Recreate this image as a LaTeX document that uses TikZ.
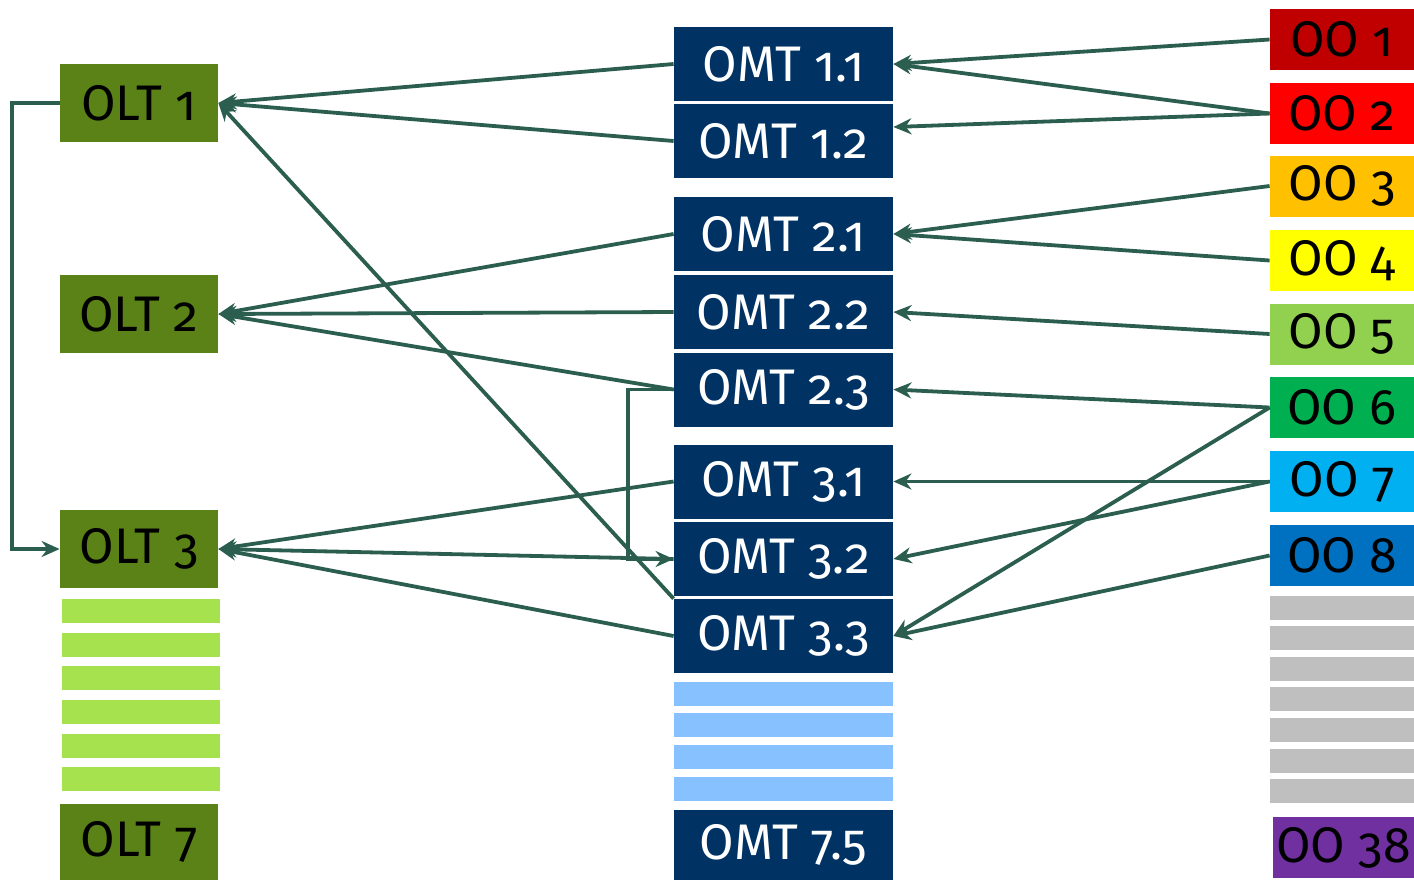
\documentclass[tikz,border=0pt]{standalone}
\usepackage{fontspec}
\setmainfont{Fira Sans}[Numbers=OldStyle]
\usetikzlibrary{arrows.meta}
\definecolor{oltgreen}{HTML}{5A8217}
\definecolor{barGreen}{HTML}{A6E24E}
\definecolor{omtblue}{HTML}{003264}
\definecolor{barBlue}{HTML}{87C1FF}
\definecolor{barGrey}{HTML}{BFBFBF}
\definecolor{connc}{HTML}{2C5E4F}
\definecolor{ooA}{HTML}{C00000}
\definecolor{ooB}{HTML}{FF0000}
\definecolor{ooC}{HTML}{FFC000}
\definecolor{ooD}{HTML}{FFFF00}
\definecolor{ooE}{HTML}{92D050}
\definecolor{ooF}{HTML}{00B050}
\definecolor{ooG}{HTML}{00B0F0}
\definecolor{ooH}{HTML}{0070C0}
\definecolor{ooZ}{HTML}{7030A0}
\tikzset{
  box/.style={rectangle, inner sep=0pt, font=\fontsize{25}{25}\selectfont},
  olt/.style={box, fill=oltgreen, text=black, minimum width=79pt, minimum height=39pt},
  omt/.style={box, fill=omtblue, text=white, minimum width=109.5pt, minimum height=37pt},
  oo/.style={box, text=black, minimum width=72pt, minimum height=30.5pt},
  gbar/.style={rectangle, inner sep=0pt, fill=barGreen, minimum width=79pt, minimum height=12pt},
  bbar/.style={rectangle, inner sep=0pt, fill=barBlue, minimum width=109.5pt, minimum height=12pt},
  rbar/.style={rectangle, inner sep=0pt, fill=barGrey, minimum width=72pt, minimum height=12pt},
  conn/.style={draw=connc, line width=1.9pt, -{Stealth[length=9pt,width=8pt]}}
}
\begin{document}
\begin{tikzpicture}[x=0.5pt,y=-0.5pt]
\useasboundingbox (0,0) rectangle (1414,880);
% OLT column
\node[olt] (olt1) at (139,103) {OLT 1};
\node[olt] (olt2) at (139,314) {OLT 2};
\node[olt] (olt3) at (139,549) {OLT 3};
\node[olt, minimum height=38pt] (olt7) at (139,842) {OLT 7};
\foreach \y [count=\i] in {611,645,678,712,746,779} \node[gbar] (gb\i) at (141,\y) {};
% OMT column
\node[omt] (omt11) at (783.5,64) {OMT 1.1};
\node[omt] (omt12) at (783.5,141) {OMT 1.2};
\node[omt] (omt21) at (783.5,234) {OMT 2.1};
\node[omt] (omt22) at (783.5,312) {OMT 2.2};
\node[omt] (omt23) at (783.5,389.5) {OMT 2.3};
\node[omt] (omt31) at (783.5,481.5) {OMT 3.1};
\node[omt] (omt32) at (783.5,559) {OMT 3.2};
\node[omt] (omt33) at (783.5,636) {OMT 3.3};
\node[omt, minimum height=35pt] (omt75) at (783.5,845) {OMT 7.5};
\foreach \y [count=\i] in {694,725,757,789} \node[bbar] (bb\i) at (783.5,\y) {};
% OO column
\node[oo, fill=ooA] (oo1) at (1342,39.5) {OO 1};
\node[oo, fill=ooB] (oo2) at (1342,113.5) {OO 2};
\node[oo, fill=ooC] (oo3) at (1342,186) {OO 3};
\node[oo, fill=ooD] (oo4) at (1342,260.5) {OO 4};
\node[oo, fill=ooE] (oo5) at (1342,334) {OO 5};
\node[oo, fill=ooF] (oo6) at (1342,407.5) {OO 6};
\node[oo, fill=ooG] (oo7) at (1342,481.5) {OO 7};
\node[oo, fill=ooH] (oo8) at (1342,555.5) {OO 8};
\foreach \y [count=\i] in {607.5,638,669,699,730,761,791} \node[rbar] (rb\i) at (1342,\y) {};
\node[oo, fill=ooZ, minimum width=70.5pt] (oo38) at (1343.5,847.5) {OO 38};
% OLT links
\draw[conn] (olt1.west) -- ++(-24pt,0) |- (olt3.west);
\draw[conn] (omt11.west) -- (olt1.east);
\draw[conn] (omt12.west) -- (olt1.east);
\draw[conn] (omt33.north west) -- (olt1.east);
\draw[conn] (omt21.west) -- (olt2.east);
\draw[conn] (omt22.west) -- (olt2.east);
\draw[conn] (omt23.west) -- (olt2.east);
\draw[conn] (omt31.west) -- (olt3.east);
\draw[conn] (omt32.west) -- (olt3.east);
\draw[conn] (omt33.west) -- (olt3.east);
\draw[conn] (omt23.west) -- ++(-23pt,0) |- (omt32.west);
% OO links
\draw[conn] (oo1.west) -- (omt11.east);
\draw[conn] (oo2.west) -- (omt11.east);
\draw[conn] (oo2.west) -- ([yshift=7pt]omt12.east);
\draw[conn] (oo3.west) -- (omt21.east);
\draw[conn] (oo4.west) -- (omt21.east);
\draw[conn] (oo5.west) -- (omt22.east);
\draw[conn] (oo6.west) -- (omt23.east);
\draw[conn] (oo6.west) -- (omt33.east);
\draw[conn] (oo7.west) -- (omt31.east);
\draw[conn] (oo7.west) -- (omt32.east);
\draw[conn] (oo8.west) -- (omt33.east);
\end{tikzpicture}
\end{document}
